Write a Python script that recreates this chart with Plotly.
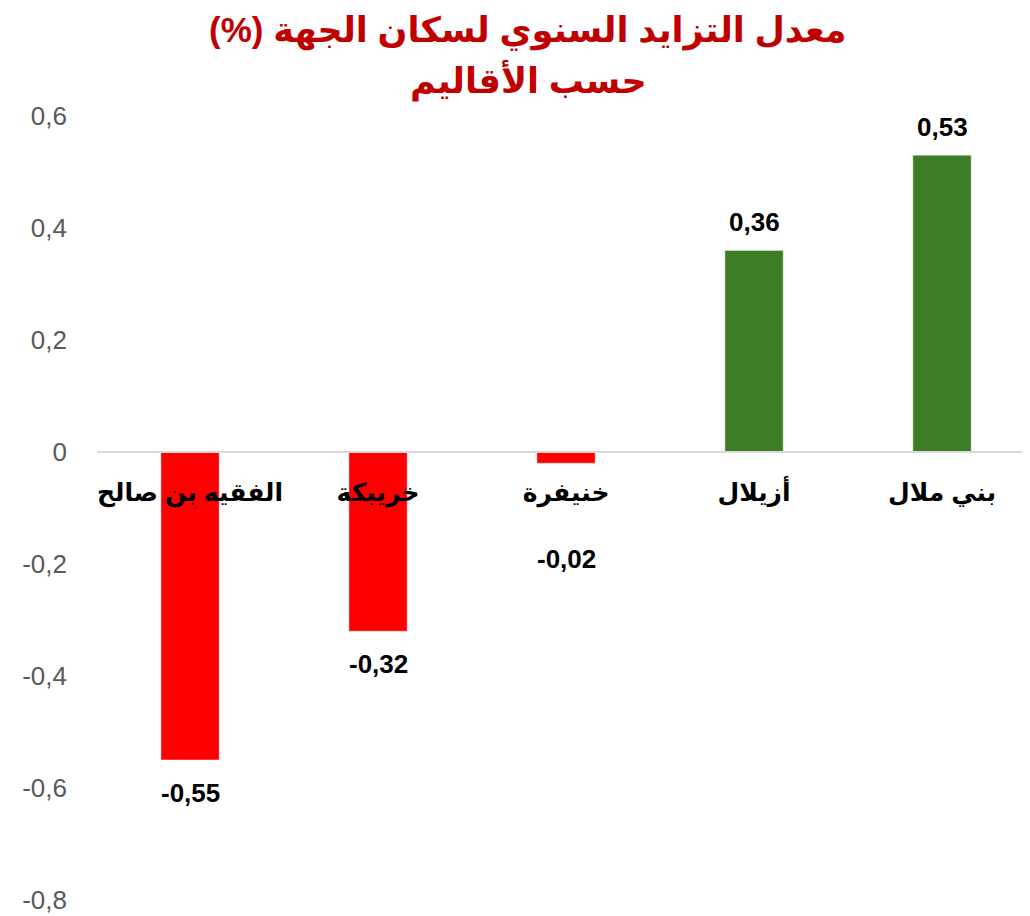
import plotly.graph_objects as go

categories = ["الفقيه بن صالح", "خريبكة", "خنيفرة", "أزيلال", "بني ملال"]
values = [-0.55, -0.32, -0.02, 0.36, 0.53]
tick_vals = [0.6, 0.4, 0.2, 0, -0.2, -0.4, -0.6, -0.8]
tick_text = ["0,6", "0,4", "0,2", "0", "-0,2", "-0,4", "-0,6", "-0,8"]
title_lines = ["معدل التزايد السنوي لسكان الجهة (%)", "حسب الأقاليم"]

colors = ["#FF0000" if v < 0 else "#3D7D25" for v in values]
labels = [f"{v:.2f}".replace(".", ",") for v in values]

ymin, ymax = -0.8, 0.6
zero_pos = (0 - ymin) / (ymax - ymin)
AR_FONT = "Liberation Sans, Arial, DejaVu Sans, sans-serif"

# page has an 8px body margin, so the figure is 8px smaller than the window
W, H = 1022, 908
ML, MR, MT, MB = 89, 0, 108, 16
plot_h = H - MT - MB
plot_w = W - ML - MR

fig = go.Figure(go.Bar(
    x=categories, y=values, marker_color=colors, width=0.31,
    hoverinfo="x+y",
))

for c, v, t in zip(categories, values, labels):
    if v >= 0:
        shift = 28
    elif abs(v) < 0.1:
        shift = -96
    else:
        shift = -33
    fig.add_annotation(
        x=c, y=v, xref="x", yref="y", text=t, showarrow=False,
        yanchor="middle", yshift=shift,
        font=dict(family="Liberation Sans, Arial, sans-serif", size=26, color="black", weight="bold"),
    )

# title lines (pixel centres measured from top of figure)
for line, py in zip(title_lines, [22, 72]):
    fig.add_annotation(
        x=(520 - ML) / plot_w, y=(H - MB - py) / plot_h, xref="paper", yref="paper",
        text=line + "\u200f", showarrow=False, xanchor="center", yanchor="middle",
        font=dict(family=AR_FONT, size=35, color="#C00000", weight="bold"),
    )

fig.update_layout(
    width=W, height=H,
    margin=dict(l=ML, r=MR, t=MT, b=MB),
    plot_bgcolor="white", paper_bgcolor="white",
    showlegend=False,
    xaxis=dict(
        anchor="free", position=zero_pos, automargin=False,
        range=[-0.495, 4.468],
        showline=True, linecolor="#D9D9D9", linewidth=2,
        showgrid=False, ticks="",
        tickfont=dict(family=AR_FONT, size=25, color="black", weight="bold"),
        ticklabelstandoff=18,
    ),
    yaxis=dict(
        range=[ymin, ymax], tickvals=tick_vals, ticktext=tick_text, automargin=False,
        showgrid=False, zeroline=False, showline=False,
        tickfont=dict(family="Liberation Sans, Arial, sans-serif", size=26, color="#595959"),
        ticklabelstandoff=29,
    ),
    bargap=0.69,
)

fig.write_html("out.html")
